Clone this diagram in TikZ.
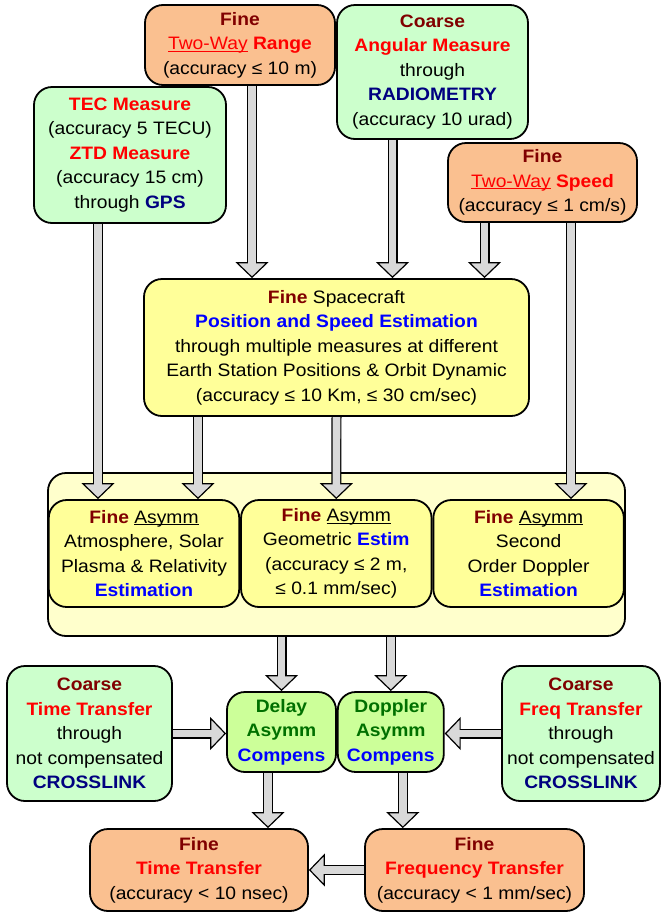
\documentclass[tikz,border=0pt]{standalone}
\usepackage{fontspec}
\setmainfont{Liberation Sans}[FakeStretch=1.07]
\usetikzlibrary{arrows.meta,backgrounds,positioning}

\definecolor{fineorange}{RGB}{250,192,144}
\definecolor{coarsegreen}{RGB}{204,255,204}
\definecolor{estyellow}{RGB}{255,255,153}
\definecolor{paleyellow}{RGB}{255,255,204}
\definecolor{compgreen}{RGB}{204,255,153}
\definecolor{arrowgray}{RGB}{217,217,217}
\definecolor{lvlred}{RGB}{128,0,0}
\definecolor{navyblue}{RGB}{0,0,128}
\definecolor{leafgreen}{RGB}{0,112,0}

\newcommand{\lvlword}[1]{\textbf{\textcolor{lvlred}{#1}}}
\newcommand{\redbold}[1]{\textbf{\textcolor{red}{#1}}}
\newcommand{\bluebold}[1]{\textbf{\textcolor{blue}{#1}}}
\newcommand{\navybold}[1]{\textbf{\textcolor{navyblue}{#1}}}
\newcommand{\greenbold}[1]{\textbf{\textcolor{leafgreen}{#1}}}
\newcommand{\undl}[1]{\underline{\smash{#1}}}
\newcommand{\twoway}{\textcolor{red}{\undl{Two-Way}}}

\begin{document}
\begin{tikzpicture}[x=1pt, y=-1pt, font=\fontsize{18}{24.5}\selectfont]

% Styles
\tikzset{
  box/.style={
    draw,
    line width=1.8pt,
    rounded corners=18pt,
    align=center,
    inner sep=0pt
  },
  finebox/.style={box, fill=fineorange},
  coarsebox/.style={box, fill=coarsegreen},
  estbox/.style={box, fill=estyellow},
  asymbox/.style={box, fill=estyellow, minimum width=190.5pt, minimum height=107pt},
  compbox/.style={box, fill=compgreen, minimum height=80pt},
  blockarrow/.style={
    line width=10pt,
    -{Triangle[width=33pt, length=16pt, fill=arrowgray, line width=1.2pt]},
    postaction={draw=arrowgray, line width=7.6pt, -, shorten >=14pt}
  }
}

\useasboundingbox (0,0) rectangle (663,919);

% Measurement inputs
\node[finebox, minimum width=190pt, minimum height=80pt] (range) at (240,45)
  {\lvlword{Fine}\\ \twoway\ \redbold{Range}\\ (accuracy ≤ 10 m)};
\node[coarsebox, minimum width=191pt, minimum height=134pt] (angle) at (432.5,72)
  {\lvlword{Coarse}\\ \redbold{Angular Measure}\\ through\\ \navybold{RADIOMETRY}\\ (accuracy 10 urad)};
\node[coarsebox, minimum width=192pt, minimum height=136pt] (gps) at (130,155)
  {\redbold{TEC Measure}\\ (accuracy 5 TECU)\\ \redbold{ZTD Measure}\\ (accuracy 15 cm)\\ through \navybold{GPS}};
\node[finebox, minimum width=189pt, minimum height=79pt] (speed) at (542.5,182.5)
  {\lvlword{Fine}\\ \twoway\ \redbold{Speed}\\ (accuracy ≤ 1 cm/s)};

% Orbit estimation
\node[estbox, minimum width=385pt, minimum height=137pt] (orbit) at (336.5,347.5)
  {\lvlword{Fine} Spacecraft\\ \bluebold{Position and Speed Estimation}\\
   through multiple measures at different\\ Earth Station Positions \& Orbit Dynamic\\
   (accuracy ≤ 10 Km, ≤ 30 cm/sec)};

% Asymmetry estimation group
\begin{scope}[on background layer]
\node[box, fill=paleyellow, minimum width=577pt, minimum height=163pt] (asym) at (336.5,554.5) {};
\end{scope}
\node[asymbox] (as1) at (144,553.5)
  {\lvlword{Fine} \undl{Asymm}\\ Atmosphere, Solar\\ Plasma \& Relativity\\ \bluebold{Estimation}};
\node[asymbox, right=0pt of as1] (as2)
  {\lvlword{Fine} \undl{Asymm}\\ Geometric \bluebold{Estim}\\ (accuracy ≤ 2 m,\\ ≤ 0.1 mm/sec)};
\node[asymbox, right=0pt of as2] (as3)
  {\lvlword{Fine} \undl{Asymm}\\ Second\\ Order Doppler\\ \bluebold{Estimation}};

% Compensation
\node[compbox, minimum width=109pt] (delay) at (281.5,732)
  {\greenbold{Delay}\\ \greenbold{Asymm}\\ \bluebold{Compens}};
\node[compbox, minimum width=106pt, right=0pt of delay] (doppler)
  {\greenbold{Doppler}\\ \greenbold{Asymm}\\ \bluebold{Compens}};
\node[coarsebox, minimum width=165pt, minimum height=135pt] (timelink) at (89.5,733.5)
  {\lvlword{Coarse}\\ \redbold{Time Transfer}\\ through\\ not compensated\\ \navybold{CROSSLINK}};
\node[coarsebox, minimum width=158pt, minimum height=135pt] (freqlink) at (581,733.5)
  {\lvlword{Coarse}\\ \redbold{Freq Transfer}\\ through\\ not compensated\\ \navybold{CROSSLINK}};

% Outputs
\node[finebox, minimum width=218pt, minimum height=82pt] (timeout) at (199,870)
  {\lvlword{Fine}\\ \redbold{Time Transfer}\\ (accuracy < 10 nsec)};
\node[finebox, minimum width=219pt, minimum height=82pt] (freqout) at (474.5,870)
  {\lvlword{Fine}\\ \redbold{Frequency Transfer}\\ (accuracy < 1 mm/sec)};

% Tap points
\coordinate (rangeOut) at ([xshift=12pt]range.south);
\coordinate (angleOut) at ([xshift=-40pt]angle.south);
\coordinate (speedOutA) at ([xshift=-58pt]speed.south);
\coordinate (speedOutB) at ([xshift=28.5pt]speed.south);
\coordinate (gpsOut) at ([xshift=-32pt]gps.south);
\coordinate (orbitOut) at ([xshift=-138.5pt]orbit.south);
\coordinate (delayIn) at (delay.north |- asym.south);
\coordinate (dopplerIn) at (doppler.north |- asym.south);
\coordinate (delayOut) at ([xshift=-13.5pt]delay.south);
\coordinate (dopplerOut) at ([xshift=12pt]doppler.south);

% Block arrows (behind the boxes)
\begin{scope}[on background layer]
\draw[blockarrow] (rangeOut) -- (rangeOut |- orbit.north);
\draw[blockarrow] (angleOut) -- (angleOut |- orbit.north);
\draw[blockarrow] (speedOutA) -- (speedOutA |- orbit.north);
\draw[blockarrow] (gpsOut) -- (gpsOut |- as1.north);
\draw[blockarrow] (orbitOut) -- (orbitOut |- as1.north);
\draw[blockarrow] (orbit.south) -- (as2.north);
\draw[blockarrow] (speedOutB) -- (speedOutB |- as3.north);
\draw[blockarrow] (delayIn) -- (delay.north);
\draw[blockarrow] (dopplerIn) -- (doppler.north);
\draw[blockarrow] (timelink.east) -- (timelink.east -| delay.west);
\draw[blockarrow] (freqlink.west) -- (freqlink.west -| doppler.east);
\draw[blockarrow] (delayOut) -- (delayOut |- timeout.north);
\draw[blockarrow] (dopplerOut) -- (dopplerOut |- freqout.north);
\draw[blockarrow] (freqout.west) -- (timeout.east);
\end{scope}

\end{tikzpicture}
\end{document}
